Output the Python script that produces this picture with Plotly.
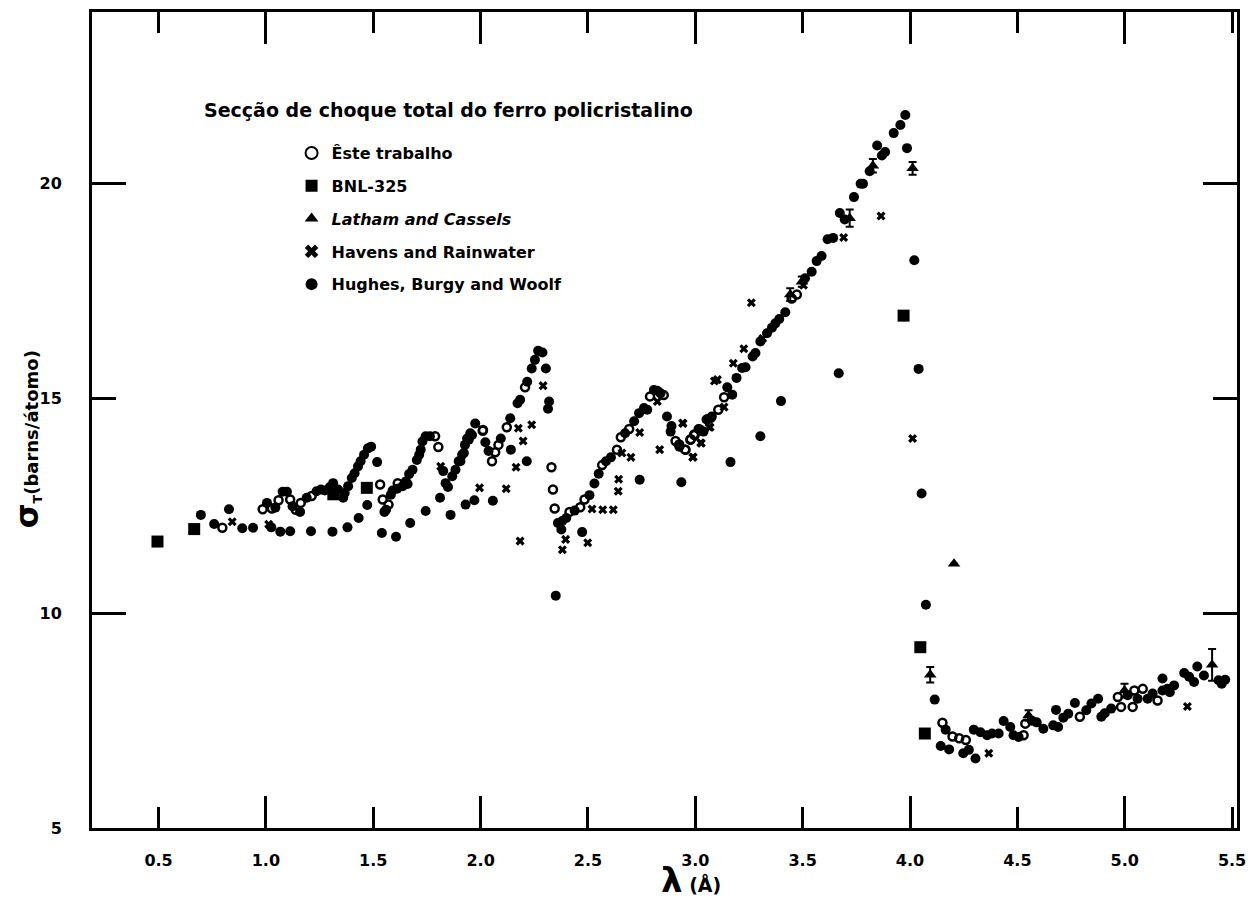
import plotly.graph_objects as go

# Total cross section of polycrystalline iron vs. neutron wavelength
# --- Êste trabalho (open circles)
este_x = [0.797, 0.985, 1.028, 1.059, 1.113, 1.139, 1.162, 1.213, 1.532, 1.544, 1.571, 1.614,
          1.788, 1.803, 2.01, 2.207, 2.122, 2.083, 2.068, 2.053, 2.011, 2.33, 2.337, 2.345,
          2.414, 2.464, 2.484, 2.566, 2.635, 2.653, 2.692, 2.789, 2.853, 2.908, 2.954, 2.977,
          2.997, 3.058, 3.473, 3.449, 3.134, 3.107, 3.072, 3.021, 2.994, 2.979, 2.925, 2.953,
          4.151, 4.198, 4.229, 4.26, 4.529, 4.537, 4.791, 4.968, 4.983, 5.045, 5.037, 5.084, 5.153]
este_y = [11.99, 12.42, 12.44, 12.63, 12.65, 12.41, 12.57, 12.73, 13.0, 12.65, 12.53, 13.03,
          14.12, 13.87, 14.25, 15.26, 14.33, 13.92, 13.75, 13.54, 14.27, 13.4, 12.88, 12.44,
          12.36, 12.47, 12.65, 13.45, 13.81, 14.1, 14.29, 15.05, 15.08, 14.01, 13.81, 14.04,
          14.15, 14.52, 17.42, 17.33, 15.03, 14.74, 14.55, 14.28, 14.16, 14.05, 13.93, 13.81,
          7.45, 7.13, 7.09, 7.05, 7.16, 7.43, 7.59, 8.05, 7.82, 8.2, 7.82, 8.24, 7.97]

# --- BNL-325 (squares)
bnl_x = [0.495, 0.666, 1.314, 1.47, 3.97, 4.048, 4.069]
bnl_y = [11.67, 11.96, 12.77, 12.92, 16.93, 9.21, 7.2]

# --- Latham and Cassels (triangles with error bars)
latham_x = [3.442, 3.496, 3.719, 3.827, 4.012, 4.094, 4.205, 4.552, 4.999, 5.407]
latham_y = [17.42, 17.72, 19.2, 20.42, 20.36, 8.57, 11.15, 7.62, 8.2, 8.8]
latham_err = [0.15, 0.12, 0.2, 0.16, 0.15, 0.18, 0.0, 0.12, 0.16, 0.37]

# --- Havens and Rainwater (crosses)
havens_x = [0.843, 1.013, 1.814, 1.995, 2.291, 2.176, 2.238, 2.198, 2.165, 2.119, 2.184,
            2.396, 2.381, 2.499, 2.519, 2.569, 2.618, 2.643, 2.641, 2.658, 2.823, 2.741,
            2.7, 2.834, 2.943, 2.988, 3.028, 3.069, 3.089, 3.865, 3.691, 3.504, 3.314,
            3.226, 3.261, 3.177, 3.103, 3.134, 3.064, 3.025, 2.941, 2.99, 4.012, 4.367, 5.292]
havens_y = [12.13, 12.07, 13.42, 12.92, 15.3, 14.31, 14.39, 14.01, 13.4, 12.9, 11.68,
            11.72, 11.48, 11.64, 12.43, 12.41, 12.41, 13.12, 12.84, 13.73, 14.93, 14.21,
            13.63, 13.81, 14.42, 13.63, 13.96, 14.33, 15.41, 19.25, 18.75, 17.64, 16.4,
            16.16, 17.23, 15.82, 15.44, 14.8, 14.33, 13.97, 14.43, 13.64, 14.07, 6.74, 7.83]

# --- Hughes, Burgy and Woolf (filled circles)
hughes_x = [0.697, 0.759, 0.828, 0.89, 0.94, 1.005, 1.025, 1.044, 1.067, 1.113, 1.078, 1.098,
            1.124, 1.159, 1.19, 1.21, 1.236, 1.256, 1.274, 1.298, 1.313, 1.31, 1.336, 1.36,
            1.367, 1.383, 1.38, 1.4, 1.413, 1.429, 1.441, 1.457, 1.475, 1.49, 1.432, 1.472,
            1.518, 1.54, 1.56, 1.552, 1.582, 1.59, 1.606, 1.611, 1.637, 1.652, 1.66, 1.672,
            1.667, 1.683, 1.703, 1.714, 1.721, 1.729, 1.744, 1.764, 1.744, 1.826, 1.811,
            1.837, 1.848, 1.86, 1.868, 1.883, 1.898, 1.914, 1.927, 1.937, 1.952, 1.975, 1.93,
            1.971, 2.268, 2.288, 2.253, 2.238, 2.304, 2.217, 2.184, 2.172, 2.319, 2.314, 2.138,
            2.094, 2.141, 2.037, 2.215, 2.022, 1.96, 1.945, 1.922, 1.906, 2.057, 2.36, 2.38,
            2.399, 2.376, 2.35, 2.473, 2.438, 2.507, 2.53, 2.55, 2.584, 2.607, 2.673, 2.715,
            2.738, 2.761, 2.776, 2.807, 2.823, 2.838, 2.741, 2.868, 2.889, 2.885, 2.926, 2.935,
            3.015, 3.038, 3.077, 3.978, 3.955, 3.924, 3.847, 3.884, 3.869, 3.986, 3.812, 3.77,
            3.781, 3.739, 3.673, 3.696, 3.616, 3.642, 3.588, 3.565, 3.542, 3.511, 3.419, 3.391,
            3.373, 3.357, 3.334, 3.303, 3.28, 3.267, 3.234, 3.218, 3.192, 3.149, 3.172, 3.052,
            3.164, 3.303, 3.399, 3.668, 4.02, 4.04, 4.054, 4.074, 4.115, 4.143, 4.182, 4.166,
            4.248, 4.274, 4.305, 4.297, 4.328, 4.359, 4.382, 4.413, 4.436, 4.467, 4.482, 4.506,
            4.567, 4.59, 4.621, 4.68, 4.667, 4.69, 4.714, 4.737, 4.768, 4.821, 4.845, 4.876,
            4.891, 4.907, 4.937, 5.014, 5.06, 5.107, 5.13, 5.176, 5.176, 5.199, 5.21, 5.23,
            5.277, 5.3, 5.323, 5.338, 5.369, 5.437, 5.468, 5.452]
hughes_y = [12.29, 12.08, 12.42, 11.98, 11.99, 12.57, 12.0, 12.46, 11.9, 11.91, 12.83, 12.83,
            12.49, 12.36, 12.69, 11.91, 12.84, 12.88, 12.86, 12.94, 13.03, 11.9, 12.88, 12.69,
            12.8, 12.96, 12.0, 13.15, 13.26, 13.42, 13.54, 13.69, 13.84, 13.88, 12.22, 12.52,
            13.52, 11.87, 12.41, 12.36, 12.76, 12.86, 11.78, 12.9, 12.96, 13.07, 13.01, 12.1,
            13.24, 13.34, 13.57, 13.69, 13.81, 14.0, 14.12, 14.12, 12.38, 13.31, 12.69,
            13.03, 12.94, 12.29, 13.19, 13.34, 13.54, 13.69, 13.92, 14.07, 14.19, 14.42, 12.53,
            12.63, 16.11, 16.07, 15.9, 15.7, 15.7, 15.39, 14.97, 14.89, 14.93, 14.76, 14.54,
            14.07, 13.81, 13.78, 13.54, 13.98, 14.15, 14.04, 13.73, 13.54, 12.62, 12.1, 12.15,
            12.22, 11.95, 10.41, 11.89, 12.39, 12.75, 13.02, 13.25, 13.54, 13.63, 14.19, 14.47,
            14.66, 14.78, 14.74, 15.2, 15.18, 15.12, 13.11, 14.58, 14.36, 14.23, 13.88, 13.05,
            14.29, 14.23, 14.58, 21.6, 21.37, 21.18, 20.89, 20.74, 20.66, 20.83, 20.29, 20.0,
            20.0, 19.69, 19.32, 19.17, 18.71, 18.74, 18.32, 18.2, 17.95, 17.8, 17.01, 16.85,
            16.75, 16.65, 16.52, 16.33, 16.06, 15.98, 15.73, 15.71, 15.48, 15.26, 15.09, 14.51,
            13.52, 14.12, 14.94, 15.59, 18.22, 15.69, 12.79, 10.2, 7.99, 6.91, 6.83, 7.29,
            6.74, 6.82, 6.62, 7.29, 7.23, 7.16, 7.2, 7.2, 7.49, 7.35, 7.16, 7.12,
            7.5, 7.46, 7.31, 7.75, 7.39, 7.35, 7.57, 7.66, 7.91, 7.74, 7.9, 8.01,
            7.59, 7.67, 7.78, 8.09, 8.01, 8.01, 8.13, 8.48, 8.2, 8.24, 8.16, 8.32,
            8.61, 8.52, 8.4, 8.76, 8.55, 8.44, 8.45, 8.36]

# Axis ticks
x_ticks = [0.5, 1.0, 1.5, 2.0, 2.5, 3.0, 3.5, 4.0, 4.5, 5.0, 5.5]
x_tick_text = ["0.5", "1.0", "1.5", "2.0", "2.5", "3.0", "3.5", "4.0", "4.5", "5.0", "5.5"]
x_long_ticks = [1.0, 2.0, 3.0, 4.0, 5.0]
y_ticks = [5, 10, 15, 20]
y_tick_text = ["5", "10", "15", "20"]
y_long_ticks = [10, 20]

X_RANGE = [0.19, 5.523]
Y_RANGE = [5.0, 24.0]

FONT = "DejaVu Sans, Verdana, sans-serif"
INK = "black"

fig = go.Figure()

fig.add_trace(go.Scatter(
    x=este_x, y=este_y, mode="markers", name="Êste trabalho", legendgroup="a",
    marker=dict(symbol="circle-open", size=8, color=INK, line=dict(width=2.5, color=INK)),
))
fig.add_trace(go.Scatter(
    x=bnl_x, y=bnl_y, mode="markers", name="BNL-325", legendgroup="b",
    marker=dict(symbol="square", size=12, color=INK),
))
fig.add_trace(go.Scatter(
    x=latham_x, y=latham_y, mode="markers", name="<i>Latham and Cassels</i>", legendgroup="c",
    marker=dict(symbol="triangle-up", size=11, color=INK),
    error_y=dict(type="data", array=latham_err, visible=True, color=INK, thickness=2, width=4),
))
fig.add_trace(go.Scatter(
    x=havens_x, y=havens_y, mode="markers", name="Havens and Rainwater", legendgroup="d",
    marker=dict(symbol="x", size=8, color=INK),
))
fig.add_trace(go.Scatter(
    x=hughes_x, y=hughes_y, mode="markers", name="Hughes, Burgy and Woolf", legendgroup="e",
    marker=dict(symbol="circle", size=10, color=INK),
))
# carrier for the overlay axes that hold the longer ticks
fig.add_trace(go.Scatter(x=[], y=[], xaxis="x2", yaxis="y2", showlegend=False, hoverinfo="skip"))

tick_font = dict(family=FONT, size=16, color=INK, weight="bold")

fig.update_layout(
    width=1255, height=912,
    margin=dict(l=92, r=10, t=9, b=84),
    paper_bgcolor="white", plot_bgcolor="white",
    font=dict(family=FONT, color=INK),
    showlegend=True,
    legend=dict(
        x=0.1743, y=0.848, xanchor="left", yanchor="top",
        bgcolor="rgba(0,0,0,0)", borderwidth=0,
        font=dict(family=FONT, size=16, color=INK, weight="bold"),
        tracegroupgap=9, itemsizing="constant",
    ),
    xaxis=dict(
        range=X_RANGE, tickmode="array", tickvals=x_ticks, ticktext=x_tick_text,
        ticks="inside", ticklen=21, tickwidth=2.5, tickcolor=INK,
        showline=True, linewidth=3, linecolor=INK, mirror="ticks",
        showgrid=False, zeroline=False, tickfont=tick_font, ticklabelstandoff=16,
    ),
    yaxis=dict(
        range=Y_RANGE, tickmode="array", tickvals=y_ticks, ticktext=y_tick_text,
        ticks="inside", ticklen=24, tickwidth=2.5, tickcolor=INK,
        showline=True, linewidth=3, linecolor=INK, mirror="ticks",
        showgrid=False, zeroline=False, tickfont=tick_font, ticklabelstandoff=24,
    ),
    xaxis2=dict(
        range=X_RANGE, overlaying="x", anchor="y2", side="bottom",
        tickmode="array", tickvals=x_long_ticks, showticklabels=False,
        ticks="inside", ticklen=32, tickwidth=2.5, tickcolor=INK, mirror="ticks",
        showline=False, showgrid=False, zeroline=False,
    ),
    yaxis2=dict(
        range=Y_RANGE, overlaying="y", anchor="x2", side="left",
        tickmode="array", tickvals=y_long_ticks, showticklabels=False,
        ticks="inside", ticklen=34, tickwidth=2.5, tickcolor=INK, mirror="ticks",
        showline=False, showgrid=False, zeroline=False,
    ),
)

# Title block above the legend entries
fig.add_annotation(
    text="Secção de choque total do ferro policristalino",
    xref="paper", yref="paper", x=0.0963, y=0.8803, xanchor="left", yanchor="middle",
    showarrow=False, font=dict(family=FONT, size=19, color=INK, weight="bold"),
)
# Axis titles
fig.add_annotation(
    text="<span style='font-size:34px'>λ</span> (Å)",
    xref="paper", yref="paper", x=0.523, y=-0.0635, xanchor="center", yanchor="middle",
    showarrow=False, font=dict(family=FONT, size=19, color=INK, weight="bold"),
)
fig.add_annotation(
    text="<span style='font-size:32px'>σ</span><sub>T</sub>(barns/átomo)",
    xref="paper", yref="paper", x=-0.0564, y=0.4768, xanchor="center", yanchor="middle",
    textangle=-90, showarrow=False, font=dict(family=FONT, size=18, color=INK, weight="bold"),
)

fig.write_html("out.html")
